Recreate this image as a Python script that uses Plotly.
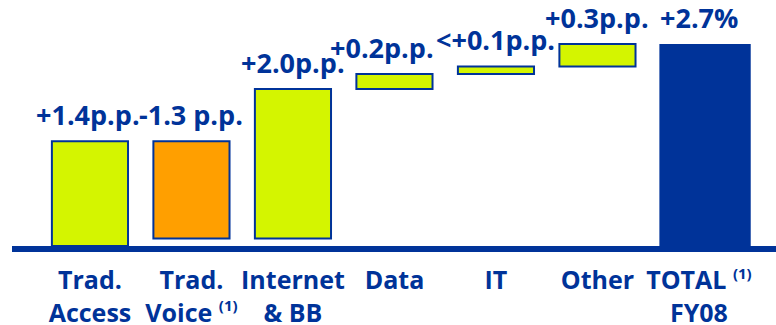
import plotly.graph_objects as go

# Revenue growth bridge, contributions in percentage points
NOTE = "<sup><span style='font-size:15px'>(1)</span></sup>"
categories = ["Trad.<br>Access", "Trad.<br>Voice " + NOTE, "Internet<br>& BB",
              "Data", "IT", "Other", "TOTAL " + NOTE + "<br>FY08"]
contributions = [1.4, -1.3, 2.0, 0.2, 0.1, 0.3, 2.7]
measures = ["relative"] * 6 + ["total"]
value_labels = ["+1.4p.p.", "-1.3 p.p.", "+2.0p.p.", "+0.2p.p.", "<+0.1p.p.", "+0.3p.p.", "+2.7%"]

BLUE = "#003399"
GREEN = "#d4f500"
ORANGE = "#ff9f00"
FONT = "Open Sans"

fig = go.Figure(go.Waterfall(
    x=categories,
    y=contributions,
    measure=measures,
    width=[0.75] * 6 + [0.9],
    offset=[-0.375] * 6 + [-0.39],
    increasing=dict(marker=dict(color=GREEN, line=dict(color=BLUE, width=2))),
    decreasing=dict(marker=dict(color=ORANGE, line=dict(color=BLUE, width=2))),
    totals=dict(marker=dict(color=BLUE, line=dict(color=BLUE, width=0))),
    connector=dict(visible=False),
    hoverinfo="skip",
))

# Running top of each bar, used to place the value labels
tops = []
running = 0.0
for v, m in zip(contributions, measures):
    if m == "total":
        tops.append(v)
        running = v
    else:
        tops.append(max(running, running + v))
        running += v

label_xshift = [-2, 0, 0, -12, 0, 0, 0]
for cat, top, text, dx in zip(categories, tops, value_labels, label_xshift):
    fig.add_annotation(
        x=cat, y=top, text=text, showarrow=False,
        yanchor="bottom", yshift=6, xshift=dx,
        font=dict(family=FONT, size=27, color=BLUE, weight="bold"),
    )

fig.update_layout(
    width=776, height=325,
    margin=dict(l=12, r=0, t=0, b=79),
    paper_bgcolor="white", plot_bgcolor="white",
    showlegend=False,
    xaxis=dict(
        range=[-0.768, 6.759],
        showline=True, linecolor=BLUE, linewidth=6,
        showgrid=False, zeroline=False, ticks="",
        tickfont=dict(family=FONT, size=25, color=BLUE, weight="bold"),
        ticklabelstandoff=7,
        automargin=False,
    ),
    yaxis=dict(
        range=[0, 3.289], visible=False, showgrid=False, zeroline=False,
        automargin=False,
    ),
)

fig.write_html("out.html")
